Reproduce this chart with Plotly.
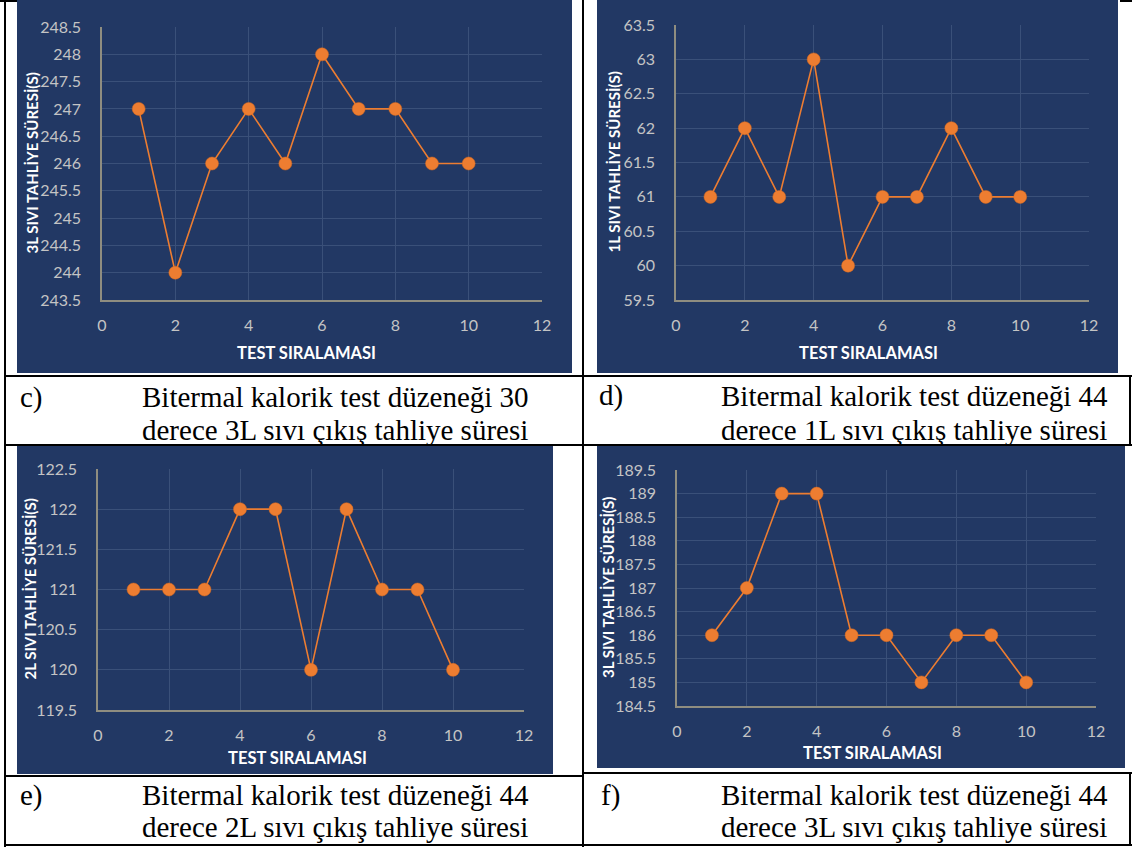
import plotly.graph_objects as go

W, H = 1132, 847

# ---------------- data ----------------
test_no = [1, 2, 3, 4, 5, 6, 7, 8, 9, 10]
sure_c = [247, 244, 246, 247, 246, 248, 247, 247, 246, 246]
sure_d = [61, 62, 61, 63, 60, 61, 61, 62, 61, 61]
sure_e = [121, 121, 121, 122, 122, 120, 122, 121, 121, 120]
sure_f = [186, 187, 189, 189, 186, 186, 185, 186, 186, 185]

y_titles = ["3L SIVI TAHLİYE SÜRESİ(S)", "1L SIVI TAHLİYE SÜRESİ(S)",
            "2L SIVI TAHLİYE SÜRESİ(S)", "3L SIVI TAHLİYE SÜRESİ(S)"]
x_title = "TEST SIRALAMASI"
labels = ["c)", "d)", "e)", "f)"]
cap1 = ["Bitermal kalorik test düzeneği 30", "Bitermal kalorik test düzeneği 44",
        "Bitermal kalorik test düzeneği 44", "Bitermal kalorik test düzeneği 44"]
cap2 = ["derece 3L sıvı çıkış tahliye süresi", "derece 1L sıvı çıkış tahliye süresi",
        "derece 2L sıvı çıkış tahliye süresi", "derece 3L sıvı çıkış tahliye süresi"]
y_ranges = [(243.5, 248.5), (59.5, 63.5), (119.5, 122.5), (184.5, 189.5)]
series = [sure_c, sure_d, sure_e, sure_f]

# ---------------- geometry (page pixels) ----------------
plot_px = [  # x0, x1, ytop, ybottom
    (102, 542, 27, 300),
    (676, 1089, 25, 300),
    (98, 524, 469, 710),
    (677, 1096, 470, 706),
]
bg_px = [(17, 572, 0, 373), (597, 1118, 0, 373), (17, 553, 446, 774), (597, 1125, 446, 768)]
ytitle_x = [31, 614, 29, 608]
xtitle_pos = [(306, 353), (868, 353), (297, 758), (872, 753)]
cap_pos = [(18, 140, 397, 430), (597, 719, 396, 430), (18, 140, 795, 827), (599, 719, 795, 827)]


def px(x):
    return x / W


def py(y):
    return 1 - y / H


NAVY = "#223864"
GRID = "#3a5079"
AXIS = "#8f8d80"
TICK = "#c4c4c4"
ORANGE = "#ED7D31"
SANS = "Lato, Open Sans, sans-serif"

fig = go.Figure()
layout = dict(
    width=W, height=H, margin=dict(l=0, r=0, t=0, b=0, pad=0, autoexpand=False),
    paper_bgcolor="white", plot_bgcolor=NAVY, showlegend=False,
    shapes=[], annotations=[],
)

for i in range(4):
    xa = "xaxis" if i == 0 else f"xaxis{i+1}"
    ya = "yaxis" if i == 0 else f"yaxis{i+1}"
    xr = "x" if i == 0 else f"x{i+1}"
    yr = "y" if i == 0 else f"y{i+1}"
    x0, x1, yt, yb = plot_px[i]
    fig.add_trace(go.Scatter(
        x=test_no, y=series[i], xaxis=xr, yaxis=yr, mode="lines+markers",
        line=dict(color=ORANGE, width=1.6),
        marker=dict(color=ORANGE, size=13, line=dict(color="#d96a1e", width=0.5)),
    ))
    layout[xa] = dict(
        domain=[px(x0), px(x1)], anchor=yr, range=[0, 12], dtick=2, tick0=0,
        showgrid=True, gridcolor=GRID, gridwidth=1, zeroline=False,
        showline=True, linecolor=AXIS, linewidth=1.5, automargin=False,
        ticks="", ticklabelstandoff=10,
        tickfont=dict(family=SANS, size=16, color=TICK),
        fixedrange=True,
    )
    lo, hi = y_ranges[i]
    layout[ya] = dict(
        domain=[py(yb), py(yt)], anchor=xr, range=[lo, hi], dtick=0.5, tick0=lo,
        showgrid=True, gridcolor=GRID, gridwidth=1, zeroline=False,
        showline=True, linecolor=AXIS, linewidth=1.5, automargin=False,
        ticks="", ticklabelstandoff=16,
        tickfont=dict(family=SANS, size=16, color=TICK),
        fixedrange=True,
    )
    # navy chart background
    bx0, bx1, by0, by1 = bg_px[i]
    layout["shapes"].append(dict(
        type="rect", xref="paper", yref="paper", x0=px(bx0), x1=px(bx1),
        y0=py(by1), y1=py(by0), fillcolor=NAVY, line=dict(width=0), layer="below"))
    # axis titles
    layout["annotations"].append(dict(
        text=y_titles[i], xref="paper", yref="paper", x=px(ytitle_x[i]), y=py((yt + yb) / 2),
        textangle=-90, showarrow=False, xanchor="center", yanchor="middle",
        font=dict(family=SANS, size=15, color="white", weight="bold")))
    tx, ty = xtitle_pos[i]
    layout["annotations"].append(dict(
        text=x_title, xref="paper", yref="paper", x=px(tx), y=py(ty),
        showarrow=False, xanchor="center", yanchor="middle",
        font=dict(family=SANS, size=16.5, color="white", weight="bold")))
    # captions
    lx, cx, l1, l2 = cap_pos[i]
    serif = dict(family="Liberation Serif, Times New Roman, serif", size=29, color="black")
    layout["annotations"].append(dict(
        text=labels[i], xref="paper", yref="paper", x=px(lx), y=py(l1),
        showarrow=False, xanchor="left", yanchor="middle", font=serif))
    layout["annotations"].append(dict(
        text=cap1[i], xref="paper", yref="paper", x=px(cx), y=py(l1),
        showarrow=False, xanchor="left", yanchor="middle", font=serif))
    layout["annotations"].append(dict(
        text=cap2[i], xref="paper", yref="paper", x=px(cx), y=py(l2),
        showarrow=False, xanchor="left", yanchor="middle", font=serif))


# table borders
def hline(y, xa, xb, w=2):
    return dict(type="line", xref="paper", yref="paper", x0=px(xa), x1=px(xb),
                y0=py(y), y1=py(y), line=dict(color="black", width=w), layer="above")


def vline(x, ya, yb, w=2):
    return dict(type="line", xref="paper", yref="paper", x0=px(x), x1=px(x),
                y0=py(ya), y1=py(yb), line=dict(color="black", width=w), layer="above")


layout["shapes"] += [
    vline(5, 0, 847), vline(583, 0, 847),
    vline(1130, 376, 446), vline(1130, 773, 846),
    hline(1, 0, 17), hline(1, 1120, 1132),
    hline(376, 5, 1132), hline(445, 5, 1132),
    hline(776, 5, 583), hline(773, 583, 1132),
    hline(845, 5, 1132),
]

fig.update_layout(**layout)
fig.write_html("out.html", config={"displayModeBar": False},
               post_script="document.body.style.margin='0';document.body.style.overflow='hidden';")
